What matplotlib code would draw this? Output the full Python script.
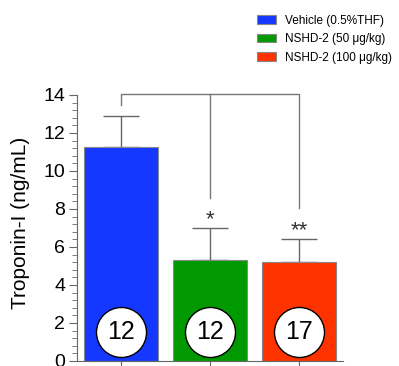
import matplotlib.pyplot as plt
from matplotlib.patches import Patch
from matplotlib.ticker import MultipleLocator

groups = ["Vehicle (0.5%THF)", "NSHD-2 (50 \u03bcg/kg)", "NSHD-2 (100 \u03bcg/kg)"]
means = [11.26, 5.32, 5.2]
errors = [1.64, 1.68, 1.22]
counts = ["12", "12", "17"]
stars = ["", "*", "**"]
colors = ["#1438ff", "#009a00", "#ff3300"]

plt.rcParams['font.family'] = ['Liberation Sans', 'DejaVu Sans']


def plotData():
    fig = plt.figure(figsize=(3.99, 3.66), dpi=100)
    ax = fig.add_axes([0.193, 0.0137, 0.667, 0.727])
    x = list(range(len(means)))

    ax.bar(x, means, width=0.83, color=colors, edgecolor="#888888",
           linewidth=0.8, zorder=2)
    # only the upper half of the error bar is shown
    ax.errorbar(x, means, yerr=[[0] * len(errors), errors], fmt="none",
                ecolor="#666666", elinewidth=1, capsize=13, capthick=1, zorder=1)

    # bracket comparing vehicle with both doses
    gray = "#777777"
    top = 14.05
    ax.plot([0, 0, 2, 2], [13.47, top, top, 8.05], color=gray, lw=1, clip_on=False)
    ax.plot([1, 1], [top, 8.58], color=gray, lw=1, clip_on=False)

    # significance stars
    for i in range(len(means)):
        if stars[i]:
            ax.text(x[i], means[i] + errors[i] - 0.1, stars[i], ha="center",
                    va="bottom", fontsize=16, color="#333333")

    # sample sizes in circles
    ax.scatter(x, [1.5] * len(x), s=1296, facecolor="white", edgecolor="black",
               linewidth=1, zorder=3, clip_on=False)
    for i in range(len(counts)):
        ax.text(x[i], 1.5, counts[i], ha="center", va="center", fontsize=18,
                zorder=4)

    ax.set_xlim(-0.494, 2.494)
    ax.set_ylim(0, 14)
    ax.yaxis.set_major_locator(MultipleLocator(2))
    ax.yaxis.set_minor_locator(MultipleLocator(0.4))
    ax.set_xticks(x)
    ax.set_xticklabels([])
    ax.tick_params(axis="y", which="major", length=6, color="#666666",
                   labelsize=14, pad=2.5)
    ax.tick_params(axis="y", which="minor", length=3.5, color="#666666")
    ax.tick_params(axis="x", length=5, color="#666666")
    for side in ["top", "right"]:
        ax.spines[side].set_visible(False)
    for side in ["left", "bottom"]:
        ax.spines[side].set_color("#666666")
    ax.set_ylabel("Troponin-I (ng/mL)", fontsize=15)
    ax.yaxis.set_label_coords(-0.177, 0.52)

    handles = [Patch(facecolor=c, edgecolor="#888888", linewidth=0.8) for c in colors]
    fig.legend(handles, groups, loc="upper left", bbox_to_anchor=(0.645, 0.96),
               frameon=False, fontsize=8.5, handlelength=1.55, handleheight=0.68,
               handletextpad=0.75, labelspacing=0.55, borderpad=0, borderaxespad=0)

    fig.savefig("out.png", dpi=100)


plotData()
